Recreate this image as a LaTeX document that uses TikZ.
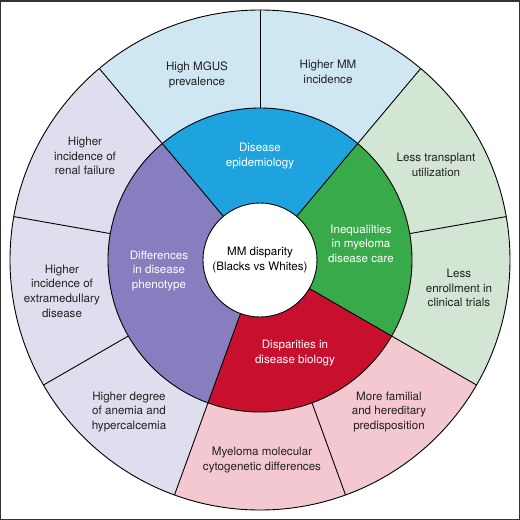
\documentclass[tikz,border=0pt]{standalone}
\usepackage{fontspec}
\setmainfont{TeX Gyre Heros}
\definecolor{oblue}{HTML}{CFE6F3}
\definecolor{iblue}{HTML}{1FA3DE}
\definecolor{ogreen}{HTML}{D3E6D4}
\definecolor{igreen}{HTML}{38AA4A}
\definecolor{ored}{HTML}{F3C8D0}
\definecolor{ired}{HTML}{C8102E}
\definecolor{opurple}{HTML}{DEDEEE}
\definecolor{ipurple}{HTML}{867EBE}
\definecolor{txt}{HTML}{231F20}
\newcommand\annsec[5]{\fill[#5] (#1:#3) arc[start angle=#1,end angle=#2,radius=#3] -- (#2:#4) arc[start angle=#2,end angle=#1,radius=#4] -- cycle;}
\begin{document}
\begin{tikzpicture}[x=1pt,y=1pt,
  lines/.style={draw=black, line width=0.9pt},
  outtxt/.style={align=center, font=\fontsize{11.6}{14.6}\selectfont, text=txt, inner sep=0pt},
  intxt/.style={align=center, font=\fontsize{11.6}{14.6}\selectfont, text=white, inner sep=0pt},
  ctxt/.style={align=center, font=\fontsize{11.6}{14.6}\selectfont, text=black, inner sep=0pt}]
\useasboundingbox (-260,-260) rectangle (260,260);
\draw[line width=1.5pt, draw=black!80] (-259.25,-259.25) rectangle (259.25,259.25);
% outer ring
\annsec{50}{130}{250}{152}{oblue}
\annsec{130}{250}{250}{152}{opurple}
\annsec{250}{330}{250}{152}{ored}
\annsec{-30}{50}{250}{152}{ogreen}
% inner ring
\annsec{50}{130}{152}{57}{iblue}
\annsec{130}{250}{152}{57}{ipurple}
\annsec{250}{330}{152}{57}{ired}
\annsec{-30}{50}{152}{57}{igreen}
% outlines
\draw[lines] (0,0) circle[radius=250];
\draw[lines] (0,0) circle[radius=152];
\foreach \a in {10,50,90,130,170,210,250,290,330}
  \draw[lines] (\a:152) -- (\a:250);
\foreach \a in {50,130,250,330}
  \draw[lines] (\a:57) -- (\a:152);
\filldraw[fill=white, lines] (0,0) circle[radius=57];
% center
\node[ctxt] (center) at (0,0) {MM disparity\\(Blacks vs Whites)};
% inner labels
\node[intxt] (epi) at (0,104) {Disease\\epidemiology};
\node[intxt] (care) at (101,16.5) {Inequalilties\\in myeloma\\disease care};
\node[intxt] (bio) at (35,-93) {Disparities in\\disease biology};
\node[intxt] (pheno) at (-101,-11) {Differences\\in disease\\phenotype};
% outer labels
\node[outtxt] (mgus) at (-63,185) {High MGUS\\prevalence};
\node[outtxt] (mminc) at (68,188) {Higher MM\\incidence};
\node[outtxt] (transp) at (176,95) {Less transplant\\utilization};
\node[outtxt] (enroll) at (199,-28) {Less\\enrollment in\\clinical trials};
\node[outtxt] (famil) at (129,-152) {More familial\\and hereditary\\predisposition};
\node[outtxt] (cyto) at (2,-200) {Myeloma molecular\\cytogenetic differences};
\node[outtxt] (anemia) at (-131,-152) {Higher degree\\of anemia and\\hypercalcemia};
\node[outtxt] (extra) at (-198,-31) {Higher\\incidence of\\extramedullary\\disease};
\node[outtxt] (renal) at (-175,104) {Higher\\incidence of\\renal failure};
\end{tikzpicture}
\end{document}
